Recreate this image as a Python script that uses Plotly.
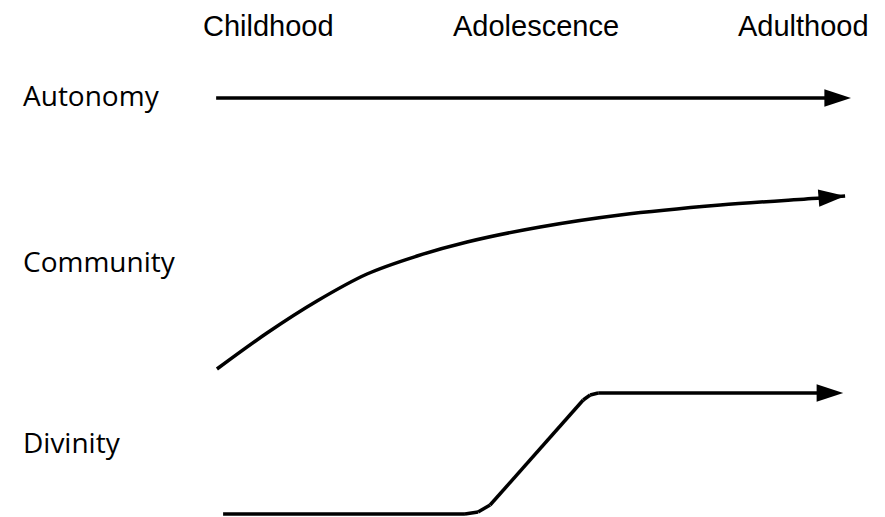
import plotly.graph_objects as go

# Life stages (x positions in stage units: Childhood=0, Adolescence=1, Adulthood=2)
stages = ["Childhood", "Adolescence", "Adulthood"]
stage_pos = [0, 1, 2]

# Row labels and their vertical level
rows = ["Autonomy", "Community", "Divinity"]
row_levels = [4.22, 2.56, 0.75]

# Series (x = developmental stage, y = level)
autonomy_x = [-0.194, 2.179]
autonomy_y = [4.19, 4.19]

community_x = [-0.191, -0.004, 0.183, 0.370, 0.557, 0.744, 1.017, 1.316, 1.690, 2.064, 2.157]
community_y = [1.48, 1.84, 2.16, 2.43, 2.61, 2.75, 2.90, 3.02, 3.12, 3.19, 3.21]

divinity_x = [-0.168, 0.736, 0.785, 0.830, 1.178, 1.204, 1.234, 2.150]
divinity_y = [0.03, 0.03, 0.05, 0.12, 1.17, 1.22, 1.24, 1.24]

HEAD_FONT = "Liberation Sans"
ROW_FONT = "Open Sans"
LINE_W = 3.5
ARROW = 28

fig = go.Figure()

def add_series(x, y, shape):
    sizes = [0] * (len(x) - 1) + [ARROW]
    fig.add_trace(go.Scatter(
        x=x, y=y, mode="lines+markers",
        line=dict(color="#000000", width=LINE_W, shape=shape, smoothing=1.0),
        marker=dict(symbol="arrow", size=sizes, color="#000000", opacity=1,
                    angleref="previous", angle=0,
                    line=dict(width=0, color="#000000")),
        cliponaxis=False,
        hoverinfo="skip", showlegend=False,
    ))

add_series(autonomy_x, autonomy_y, "linear")
add_series(community_x, community_y, "spline")
add_series(divinity_x, divinity_y, "linear")

for s, p in zip(stages, stage_pos):
    fig.add_annotation(x=p, y=1, xref="x", yref="paper", text=s, showarrow=False,
                       xanchor="center", yanchor="top", yshift=-1, borderpad=0,
                       font=dict(family=HEAD_FONT, size=29, color="black"))

for r, lv in zip(rows, row_levels):
    fig.add_annotation(x=0.0145, y=lv, xref="paper", yref="y", text=r, showarrow=False,
                       xanchor="left", yanchor="middle",
                       font=dict(family=ROW_FONT, size=28, color="black"))

fig.update_layout(
    width=885, height=517,
    margin=dict(l=0, r=0, t=0, b=0),
    paper_bgcolor="white", plot_bgcolor="white",
    xaxis=dict(range=[-0.972, 2.336], visible=False, fixedrange=True),
    yaxis=dict(range=[-0.08, 5.09], visible=False, fixedrange=True),
)

fig.write_html("out.html")
